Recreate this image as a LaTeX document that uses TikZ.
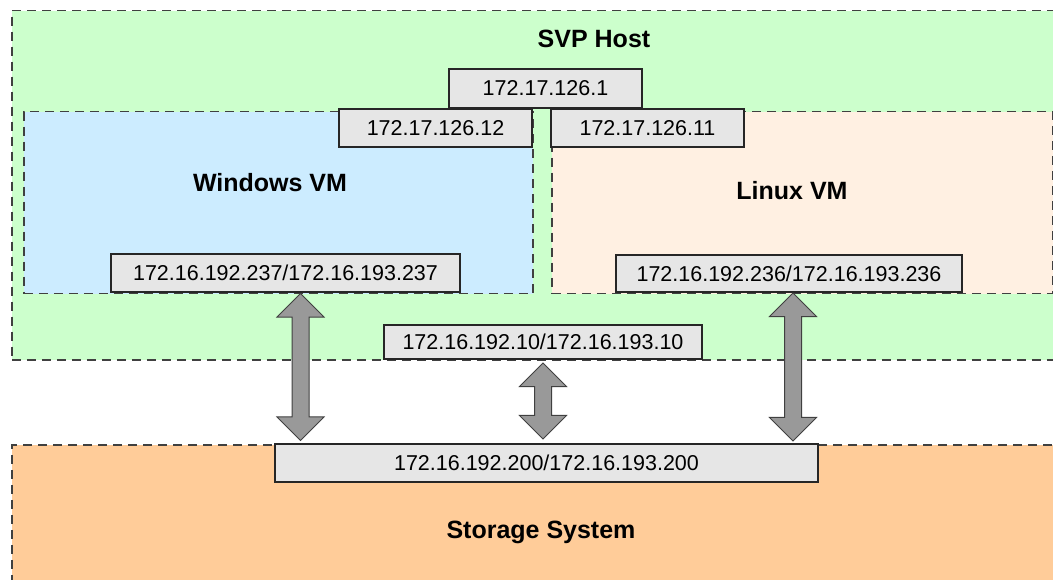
\documentclass[tikz,border=0pt]{standalone}
\usepackage{fontspec}
\setmainfont{Liberation Sans}
\usetikzlibrary{shapes.arrows}

\definecolor{hostgreen}{HTML}{CCFFCC}
\definecolor{winblue}{HTML}{CCECFF}
\definecolor{linpeach}{HTML}{FFF0E2}
\definecolor{stororange}{HTML}{FFCC99}
\definecolor{ipgray}{HTML}{E6E6E6}
\definecolor{edgegray}{HTML}{404040}
\definecolor{arrowgray}{HTML}{999999}

\tikzset{
  region/.style={draw=edgegray, dash pattern=on 9pt off 6pt, line width=1.5pt,
    inner sep=0pt, anchor=north west},
  ipbox/.style={draw=black!85, fill=ipgray, line width=1.1pt, inner sep=0pt,
    minimum height=38pt, font=\fontsize{21.5}{26}\selectfont},
  title/.style={anchor=base, font=\bfseries\fontsize{25}{30}\selectfont},
  dblarrow/.style={double arrow, draw=edgegray, fill=arrowgray, line width=1pt,
    rotate=90, inner xsep=0pt, inner ysep=8pt, double arrow head extend=15pt}
}

\begin{document}
\begin{tikzpicture}[x=1pt,y=-1pt]
	\useasboundingbox (0,0) rectangle (1053,580);
	\clip (0,0) rectangle (1053,580);
	
	% Regions
	\node (host) at (11,10) [region, fill=hostgreen, minimum width=1060pt, minimum height=349pt] {};
	\node (win) at (23,111) [region, fill=winblue, minimum width=509pt, minimum height=182pt] {};
	\node (lin) at (551,111) [region, fill=linpeach, minimum width=501pt, minimum height=182pt] {};
	\node (stor) at (11,444) [region, fill=stororange, minimum width=1060pt, minimum height=150pt] {};
	
	% Titles
	\node (hosttitle) at (594,48) [title] {SVP Host};
	\node (wintitle) at (270,192) [title] {Windows VM};
	\node (lintitle) at (792,200) [title] {Linux VM};
	\node (stortitle) at (541,538) [title] {Storage System};
	
	% Addresses
	\node (hostip) at (545.5,88.5) [ipbox, minimum width=193pt, minimum height=39pt] {172.17.126.1};
	\node (winhost) at (435.5,128) [ipbox, minimum width=193pt] {172.17.126.12};
	\node (linhost) at (647.5,128) [ipbox, minimum width=193pt] {172.17.126.11};
	\node (winip) at (285.5,273) [ipbox, minimum width=349pt] {172.16.192.237/172.16.193.237};
	\node (linip) at (789,273.5) [ipbox, minimum width=346pt, minimum height=37pt] {172.16.192.236/172.16.193.236};
	\node (hostsan) at (543,342) [ipbox, minimum width=318pt, minimum height=34pt] {172.16.192.10/172.16.193.10};
	\node (storip) at (546.5,463) [ipbox, minimum width=543pt] {172.16.192.200/172.16.193.200};
	
	% Links to the storage
	\node (winlink) at (300.5,367) [dblarrow, minimum height=147pt] {};
	\node (sanlink) at (543,401) [dblarrow, minimum height=76pt] {};
	\node (linlink) at (793,367) [dblarrow, minimum height=148pt] {};
\end{tikzpicture}
\end{document}
